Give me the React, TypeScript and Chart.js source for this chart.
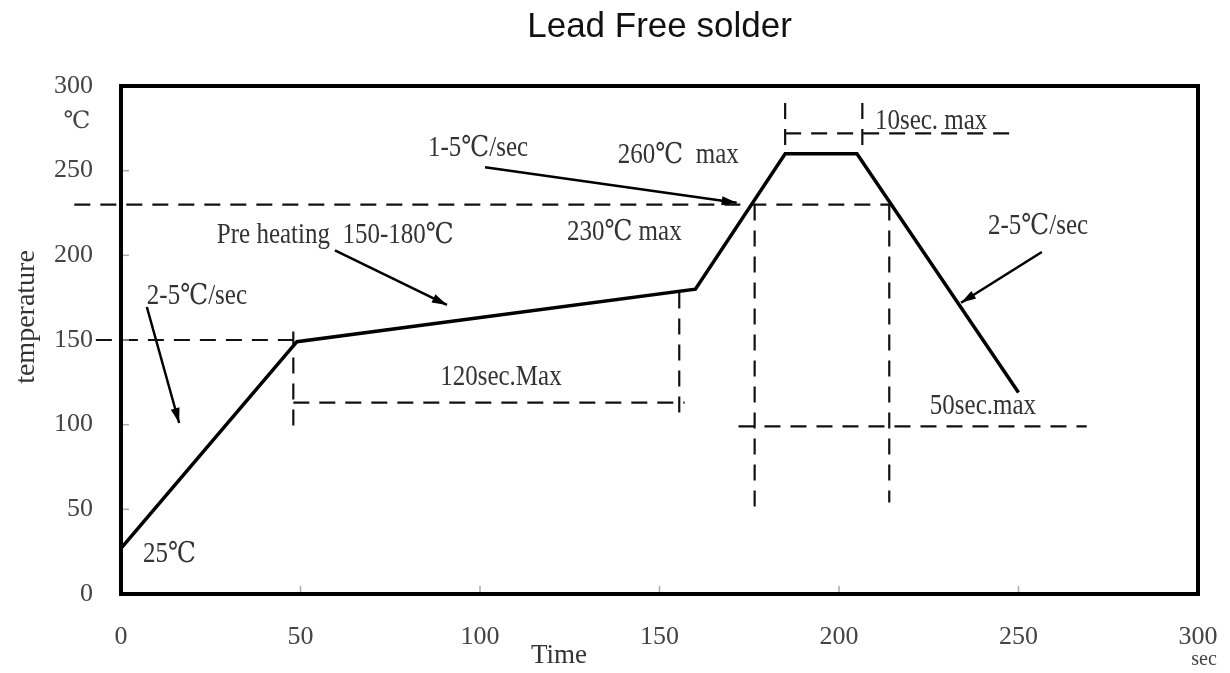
import React, { useEffect, useRef } from "react";
import { Chart, registerables } from "chart.js";

Chart.register(...registerables);

// ---- data ----
const xTicks = [0, 50, 100, 150, 200, 250, 300];
const yTicks = [0, 50, 100, 150, 200, 250, 300];

const profileTime = [0, 49, 160, 185, 205, 250];
const profileTemp = [27, 149, 180, 260, 260, 119];

// dashed guide segments: [x1, y1, x2, y2]
const guideLines = [
  [-7, 150, 48, 150],
  [-13, 230, 214, 230],
  [48, 155, 48, 98],
  [48, 113, 157, 113],
  [155.5, 178, 155.5, 105],
  [176.5, 230, 176.5, 48],
  [214, 230, 214, 54],
  [172, 99, 269, 99],
  [185, 290, 185, 262],
  [206.5, 290, 206.5, 261],
  [185, 272, 250, 272],
];

// arrows: [fromX, fromY, toX, toY]
const arrowLines = [
  [7.2, 169.5, 16.2, 101],
  [59.6, 203, 90.8, 170.7],
  [101.4, 252, 171.5, 231],
  [256.5, 202, 234, 172],
];

const noteTexts = [
  "25℃",
  "2-5℃/sec",
  "Pre heating  150-180℃",
  "1-5℃/sec",
  "260℃  max",
  "230℃ max",
  "120sec.Max",
  "10sec. max",
  "2-5℃/sec",
  "50sec.max",
];
const noteX = [6.1, 7.2, 26.7, 85.5, 138.4, 124.2, 88.9, 210, 241.5, 225.3];
const noteY = [23.6, 175.5, 211.5, 263, 258.7, 213.8, 127.6, 278.8, 216.8, 110.5];

const SERIF = '"Liberation Serif", "DejaVu Serif", serif';

const overlayPlugin = {
  id: "overlay",
  afterDatasetsDraw(chart: any) {
    const { ctx, chartArea: a } = chart;
    const x = chart.scales.x;
    const y = chart.scales.y;
    ctx.save();

    // frame
    ctx.strokeStyle = "#000";
    ctx.lineWidth = 4;
    ctx.setLineDash([]);
    ctx.strokeRect(a.left, a.top, a.right - a.left, a.bottom - a.top);

    // inner tick marks
    ctx.strokeStyle = "#aaa";
    ctx.lineWidth = 1.5;
    yTicks.slice(1, -1).forEach((v) => {
      const py = y.getPixelForValue(v);
      ctx.beginPath();
      ctx.moveTo(a.left + 2, py);
      ctx.lineTo(a.left + 8, py);
      ctx.stroke();
    });
    xTicks.slice(1, -1).forEach((v) => {
      const px = x.getPixelForValue(v);
      ctx.beginPath();
      ctx.moveTo(px, a.bottom - 2);
      ctx.lineTo(px, a.bottom - 8);
      ctx.stroke();
    });

    // arrowheads
    const firstArrow = 1 + guideLines.length;
    ctx.fillStyle = "#000";
    arrowLines.forEach((_, i) => {
      const meta = chart.getDatasetMeta(firstArrow + i);
      const p0 = meta.data[0];
      const p1 = meta.data[1];
      if (!p0 || !p1) return;
      const ang = Math.atan2(p1.y - p0.y, p1.x - p0.x);
      const L = 15;
      const W = 4.5;
      const bx = p1.x - L * Math.cos(ang);
      const by = p1.y - L * Math.sin(ang);
      ctx.beginPath();
      ctx.moveTo(p1.x, p1.y);
      ctx.lineTo(bx + W * Math.sin(ang), by - W * Math.cos(ang));
      ctx.lineTo(bx - W * Math.sin(ang), by + W * Math.cos(ang));
      ctx.closePath();
      ctx.fill();
    });

    // annotation texts
    ctx.fillStyle = "#333";
    ctx.font = `25px ${SERIF}`;
    ctx.textBaseline = "middle";
    ctx.textAlign = "left";
    noteTexts.forEach((t, i) => {
      const px = x.getPixelForValue(noteX[i]);
      const py = y.getPixelForValue(noteY[i]);
      ctx.save();
      ctx.translate(px, py);
      ctx.scale(1, 1.15);
      ctx.fillText(t, 0, 0);
      ctx.restore();
    });

    // axis unit labels
    ctx.fillStyle = "#444";
    ctx.textAlign = "center";
    ctx.font = `24px ${SERIF}`;
    ctx.fillText("℃", a.left - 44, y.getPixelForValue(300) + 36);
    ctx.font = `20px ${SERIF}`;
    ctx.fillText("sec", x.getPixelForValue(300) + 6, a.bottom + 66);

    // axis titles
    ctx.fillStyle = "#333";
    ctx.font = `28px ${SERIF}`;
    ctx.save();
    ctx.translate(27, a.top + 231);
    ctx.rotate(-Math.PI / 2);
    ctx.fillText("temperature", 0, 0);
    ctx.restore();
    ctx.font = `27px ${SERIF}`;
    ctx.fillText("Time", x.getPixelForValue(122), a.bottom + 62);

    ctx.restore();
  },
};

export default function App() {
  const ref = useRef<HTMLCanvasElement | null>(null);

  useEffect(() => {
    if (!ref.current) return;

    const datasets: any[] = [
      {
        data: profileTime.map((t, i) => ({ x: t, y: profileTemp[i] })),
        borderColor: "#000",
        borderWidth: 3.5,
        pointRadius: 0,
        tension: 0,
        clip: false,
      },
      ...guideLines.map((g) => ({
        data: [
          { x: g[0], y: g[1] },
          { x: g[2], y: g[3] },
        ],
        borderColor: "#111",
        borderWidth: 2.2,
        borderDash: [16, 10],
        pointRadius: 0,
        clip: false,
      })),
      ...arrowLines.map((g) => ({
        data: [
          { x: g[0], y: g[1] },
          { x: g[2], y: g[3] },
        ],
        borderColor: "#000",
        borderWidth: 2.5,
        pointRadius: 0,
        clip: false,
      })),
    ];

    const chart = new Chart(ref.current, {
      type: "line",
      data: { datasets },
      options: {
        animation: false,
        responsive: false,
        events: [],
        layout: { padding: { top: 0, right: 32, bottom: 0, left: 0 } },
        plugins: {
          legend: { display: false },
          tooltip: { enabled: false },
          title: {
            display: true,
            text: "Lead Free solder",
            fullSize: false,
            color: "#111",
            font: { family: '"Liberation Sans", Arial, sans-serif', size: 35, weight: "normal" },
            padding: { top: 6, bottom: 38 },
          },
        },
        scales: {
          x: {
            type: "linear",
            min: 0,
            max: 300,
            afterFit: (s: any) => {
              s.height = 79;
              s.paddingLeft = 0;
              s.paddingRight = 0;
            },
            afterBuildTicks: (s: any) => {
              s.ticks = xTicks.map((v) => ({ value: v }));
            },
            ticks: {
              padding: 28,
              color: "#444",
              font: { family: SERIF, size: 26 },
              maxRotation: 0,
            },
            grid: { display: false, drawTicks: false },
            border: { display: false },
          },
          y: {
            type: "linear",
            min: 0,
            max: 300,
            afterFit: (s: any) => {
              s.width = 121;
              s.paddingTop = 0;
              s.paddingBottom = 0;
            },
            afterBuildTicks: (s: any) => {
              s.ticks = yTicks.map((v) => ({ value: v }));
            },
            ticks: {
              padding: 28,
              color: "#444",
              font: { family: SERIF, size: 26 },
            },
            grid: { display: false, drawTicks: false },
            border: { display: false },
          },
        },
      },
      plugins: [overlayPlugin],
    });

    return () => chart.destroy();
  }, []);

  return (
    <div style={{ position: "fixed", left: 0, top: 0, width: 1230, height: 673, background: "#fff" }}>
      <canvas ref={ref} width={1230} height={673} style={{ display: "block" }} />
    </div>
  );
}
